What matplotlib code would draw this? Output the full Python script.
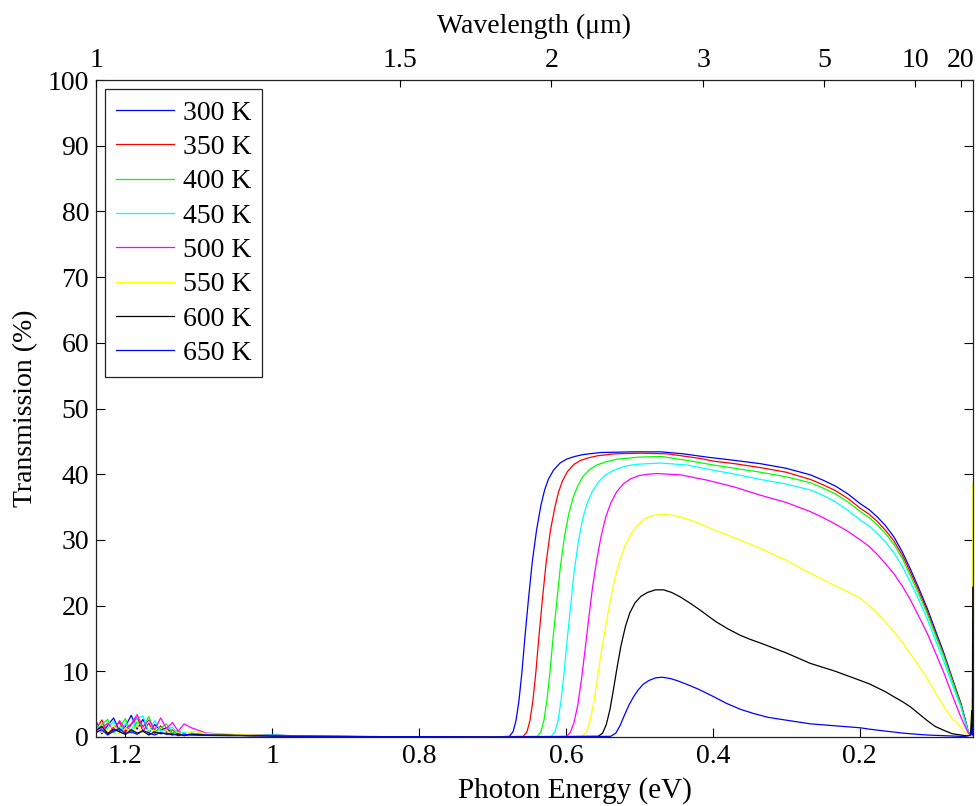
import numpy as np
import matplotlib
matplotlib.use("Agg")
import matplotlib.pyplot as plt

plt.rcParams['font.family'] = ['Liberation Serif', 'DejaVu Serif']

# ---------------------------------------------------------------
# Data: transmission (%) versus photon energy (eV) for each temperature
# ---------------------------------------------------------------
LABELS = ['300 K', '350 K', '400 K', '450 K', '500 K', '550 K', '600 K', '650 K']
COLORS = ['#0000ff', '#ff0000', '#00ff00', '#00ffff', '#ff00ff', '#ffff00', '#000000', '#0000ff']

# high-energy detector noise region (shared energy grid)
NOISE_E = [1.240, 1.232, 1.224, 1.216, 1.208, 1.200, 1.192, 1.184, 1.176, 1.168,
           1.160, 1.152, 1.144, 1.136, 1.128, 1.120, 1.110, 1.090, 1.060, 1.030,
           1.000, 0.960, 0.920, 0.880, 0.840]
NOISE_300 = [2.4, 0.5, 1.8, 2.9, 0.9, 1.6, 3.3, 1.2, 2.7, 0.6, 1.9, 1.0, 1.4, 0.4, 0.8,
             0.3, 0.5, 0.4, 0.3, 0.25, 0.3, 0.15, 0.1, 0.08, 0.05]
NOISE_350 = [1.2, 2.6, 0.4, 1.5, 2.2, 0.7, 1.9, 3.0, 0.9, 2.1, 0.5, 1.7, 0.8, 1.1, 0.3,
             0.6, 0.4, 0.3, 0.35, 0.2, 0.25, 0.15, 0.1, 0.06, 0.05]
NOISE_400 = [0.8, 1.9, 2.7, 0.6, 1.4, 2.8, 0.5, 2.3, 1.6, 3.1, 0.8, 1.3, 2.0, 0.6, 1.0,
             0.4, 0.6, 0.35, 0.3, 0.3, 0.2, 0.15, 0.1, 0.07, 0.05]
NOISE_450 = [2.0, 0.9, 1.3, 2.4, 0.5, 2.1, 1.0, 2.9, 3.2, 0.7, 2.5, 0.9, 1.2, 1.5, 0.5,
             0.7, 0.3, 0.45, 0.3, 0.2, 0.3, 0.1, 0.12, 0.06, 0.05]
NOISE_500 = [0.6, 1.4, 2.1, 1.0, 2.5, 1.2, 2.0, 3.4, 1.5, 2.6, 1.1, 2.9, 1.3, 2.2, 0.9,
             2.0, 1.4, 0.6, 0.4, 0.3, 0.2, 0.15, 0.1, 0.06, 0.05]
NOISE_550 = [1.5, 0.7, 1.1, 1.8, 0.4, 1.3, 0.8, 1.7, 0.6, 1.2, 0.9, 0.5, 1.0, 0.4, 0.7,
             0.3, 0.9, 0.5, 0.4, 0.3, 0.2, 0.1, 0.1, 0.05, 0.05]
NOISE_600 = [1.0, 1.6, 0.5, 1.2, 0.8, 0.4, 1.1, 0.6, 0.9, 0.3, 0.8, 0.5, 0.6, 0.3, 0.5,
             0.2, 0.4, 0.3, 0.3, 0.2, 0.15, 0.1, 0.08, 0.05, 0.05]
NOISE_650 = [0.7, 1.1, 0.3, 0.9, 1.3, 0.5, 0.8, 0.4, 1.0, 0.6, 0.3, 0.7, 0.4, 0.5, 0.2,
             0.4, 0.3, 0.25, 0.2, 0.2, 0.15, 0.1, 0.08, 0.05, 0.05]

# shared energy grid for the free-carrier roll-off toward long wavelengths
TAIL_E = [0.199, 0.187, 0.176, 0.165, 0.153, 0.142, 0.131, 0.120, 0.108, 0.097,
          0.085, 0.074, 0.062, 0.056, 0.052, 0.049, 0.0472, 0.0465, 0.0459]

# absorption edge and transmission window (down to 0.2 eV), then the roll-off
E_300 = [0.80, 0.70, 0.677, 0.672, 0.668, 0.664, 0.660, 0.656, 0.651, 0.646, 0.640, 0.634,
         0.629, 0.624, 0.617, 0.608, 0.599, 0.588, 0.576, 0.553, 0.510, 0.470, 0.440, 0.408,
         0.370, 0.335, 0.300, 0.267, 0.250, 0.233, 0.216]
T_300 = [0.05, 0.0, 0.1, 0.8, 2.5, 5.5, 9.8, 15.0, 21.0, 26.5, 31.5, 35.3,
         37.6, 39.2, 40.6, 41.7, 42.3, 42.7, 43.0, 43.3, 43.4, 43.4, 43.1, 42.6,
         42.1, 41.6, 40.9, 39.9, 39.1, 38.2, 37.0]
TAIL_300 = [35.5, 34.6, 33.5, 32.2, 30.4, 28.2, 25.6, 22.8, 19.6, 16.3,
            12.7, 9.0, 5.1, 2.6, 0.8, 0.3, 1.2, 0.4, 2.0]

E_350 = [0.80, 0.70, 0.658, 0.653, 0.649, 0.645, 0.641, 0.637, 0.632, 0.627, 0.621, 0.615,
         0.610, 0.605, 0.598, 0.589, 0.580, 0.569, 0.557, 0.534, 0.499, 0.462, 0.417, 0.400,
         0.370, 0.335, 0.300, 0.267, 0.250, 0.233, 0.216]
T_350 = [0.05, 0.0, 0.1, 0.8, 2.5, 5.5, 9.8, 15.0, 21.0, 26.5, 31.5, 35.0,
         37.3, 38.9, 40.4, 41.5, 42.1, 42.5, 42.8, 43.1, 43.2, 43.1, 42.4, 42.0,
         41.6, 41.0, 40.3, 39.2, 38.4, 37.5, 36.3]
TAIL_350 = [34.8, 33.9, 32.8, 31.5, 29.8, 27.7, 25.1, 22.4, 19.2, 15.9,
            12.4, 8.8, 5.0, 2.4, 0.7, 0.3, 0.9, 0.3, 1.5]

E_400 = [0.80, 0.70, 0.639, 0.634, 0.630, 0.626, 0.622, 0.618, 0.613, 0.608, 0.602, 0.596,
         0.590, 0.584, 0.577, 0.568, 0.558, 0.545, 0.530, 0.500, 0.470, 0.435, 0.399, 0.370,
         0.335, 0.300, 0.267, 0.250, 0.233, 0.216]
T_400 = [0.05, 0.0, 0.1, 0.8, 2.5, 5.5, 9.6, 14.5, 20.0, 25.5, 30.5, 34.0,
         36.5, 38.2, 39.6, 40.7, 41.4, 41.9, 42.3, 42.6, 42.7, 42.1, 41.4, 40.9,
         40.3, 39.6, 38.7, 37.9, 37.0, 35.8]
TAIL_400 = [34.3, 33.4, 32.3, 31.0, 29.3, 27.2, 24.6, 21.9, 18.8, 15.6,
            12.2, 8.6, 4.8, 2.3, 0.7, 0.3, 0.8, 0.3, 1.2]

E_450 = [0.80, 0.70, 0.620, 0.615, 0.611, 0.607, 0.603, 0.599, 0.594, 0.589, 0.583, 0.577,
         0.571, 0.564, 0.556, 0.546, 0.535, 0.520, 0.505, 0.471, 0.435, 0.399, 0.370, 0.335,
         0.300, 0.267, 0.250, 0.233, 0.216]
T_450 = [0.05, 0.0, 0.1, 0.8, 2.4, 5.2, 9.2, 14.0, 19.5, 25.0, 29.8, 33.3,
         35.6, 37.4, 38.8, 39.9, 40.6, 41.2, 41.5, 41.7, 41.4, 40.6, 40.0, 39.2,
         38.5, 37.6, 36.8, 35.8, 34.5]
TAIL_450 = [33.0, 32.1, 31.0, 29.7, 28.0, 26.0, 23.6, 21.0, 18.0, 14.8,
            11.4, 8.0, 4.5, 2.2, 0.7, 0.3, 0.9, 0.3, 1.0]

E_500 = [0.80, 0.70, 0.599, 0.594, 0.589, 0.584, 0.579, 0.574, 0.569, 0.564, 0.558, 0.552,
         0.546, 0.539, 0.531, 0.522, 0.512, 0.500, 0.488, 0.476, 0.460, 0.444, 0.408, 0.372,
         0.335, 0.300, 0.267, 0.250, 0.233, 0.216]
T_500 = [0.05, 0.0, 0.1, 0.7, 2.2, 4.8, 8.6, 13.2, 18.0, 22.6, 27.0, 30.6,
         33.4, 35.6, 37.3, 38.5, 39.3, 39.8, 40.0, 40.1, 40.0, 39.9, 39.1, 38.1,
         36.8, 35.7, 34.3, 33.4, 32.4, 31.3]
TAIL_500 = [30.0, 29.0, 27.8, 26.4, 24.8, 23.0, 20.9, 18.5, 15.8, 12.9,
            9.7, 6.4, 3.0, 1.5, 0.6, 0.3, 1.4, 0.4, 2.2]

E_550 = [0.80, 0.70, 0.578, 0.572, 0.567, 0.562, 0.557, 0.552, 0.546, 0.540, 0.534, 0.527,
         0.520, 0.512, 0.503, 0.493, 0.482, 0.471, 0.458, 0.444, 0.420, 0.400, 0.370, 0.335,
         0.300, 0.267, 0.233, 0.216]
T_550 = [0.05, 0.0, 0.1, 0.8, 2.5, 5.3, 9.0, 12.8, 16.8, 20.6, 23.8, 26.8,
         29.0, 30.8, 32.2, 33.2, 33.7, 33.9, 33.8, 33.5, 32.6, 31.6, 30.3, 28.7,
         26.9, 24.9, 23.0, 22.1]
TAIL_550 = [21.1, 20.0, 18.8, 17.5, 16.0, 14.4, 12.7, 10.9, 8.9, 6.8,
            4.6, 2.8, 1.5, 0.6, 0.3, 0.2, 6.0, 0.5, 38.6]

E_600 = [0.80, 0.70, 0.556, 0.550, 0.545, 0.540, 0.535, 0.530, 0.525, 0.519, 0.513, 0.506,
         0.498, 0.489, 0.478, 0.467, 0.456, 0.444, 0.430, 0.417, 0.405, 0.395, 0.380, 0.363,
         0.350, 0.335, 0.300, 0.267, 0.233, 0.216]
T_600 = [0.05, 0.0, 0.1, 0.6, 1.9, 4.2, 7.4, 10.8, 13.9, 16.8, 18.9, 20.4,
         21.4, 22.0, 22.4, 22.4, 22.0, 21.3, 20.3, 19.3, 18.3, 17.5, 16.5, 15.5,
         14.9, 14.3, 12.8, 11.2, 10.0, 9.3]
TAIL_600 = [8.6, 8.1, 7.5, 6.9, 6.1, 5.4, 4.6, 3.6, 2.5, 1.6,
            1.0, 0.5, 0.3, 0.2, 0.2, 0.3, 4.0, 0.6, 22.8]

E_650 = [0.80, 0.70, 0.539, 0.532, 0.526, 0.520, 0.514, 0.508, 0.502, 0.495, 0.487, 0.478,
         0.469, 0.458, 0.449, 0.435, 0.420, 0.400, 0.381, 0.362, 0.345, 0.325, 0.308, 0.267,
         0.233, 0.216]
T_650 = [0.05, 0.0, 0.1, 0.6, 1.8, 3.4, 4.9, 6.1, 7.1, 8.0, 8.6, 9.0,
         9.1, 8.9, 8.6, 8.0, 7.3, 6.2, 5.1, 4.2, 3.6, 3.0, 2.7, 2.0,
         1.7, 1.55]
TAIL_650 = [1.4, 1.2, 1.05, 0.9, 0.75, 0.6, 0.5, 0.4, 0.3, 0.25,
            0.2, 0.15, 0.1, 0.1, 0.2, 0.3, 1.0, 0.3, 1.5]

NOISE = [NOISE_300, NOISE_350, NOISE_400, NOISE_450, NOISE_500, NOISE_550, NOISE_600, NOISE_650]
ENERGY = [E_300, E_350, E_400, E_450, E_500, E_550, E_600, E_650]
TRANS = [T_300, T_350, T_400, T_450, T_500, T_550, T_600, T_650]
TAILS = [TAIL_300, TAIL_350, TAIL_400, TAIL_450, TAIL_500, TAIL_550, TAIL_600, TAIL_650]

# axis ticks
E_TICKS = [1.2, 1.0, 0.8, 0.6, 0.4, 0.2]
E_TICK_LABELS = ['1.2', '1', '0.8', '0.6', '0.4', '0.2']
WL_TICKS = [1, 1.5, 2, 3, 5, 10, 20]
WL_TICK_LABELS = ['1', '1.5', '2', '3', '5', '10', '20']
Y_TICKS = list(range(0, 101, 10))

HC = 1.2398  # eV * um
E_MAX, E_MIN = 1.240, 0.0456

# ---------------------------------------------------------------
fig = plt.figure(figsize=(9.79, 8.06), dpi=100)
W, H = 979, 806
ax = fig.add_axes([96 / W, 1 - 737 / H, 877 / W, 657 / H])

for noise, e, t, tail, c, lab in zip(NOISE, ENERGY, TRANS, TAILS, COLORS, LABELS):
    x = np.concatenate([NOISE_E, e, TAIL_E])
    y = np.concatenate([noise, t, tail])
    ax.plot(x, y, color=c, lw=0.9, label=lab)

ax.set_xlim(E_MAX, E_MIN)
ax.set_ylim(0, 100)
ax.set_xticks(E_TICKS)
ax.set_xticklabels(E_TICK_LABELS)
ax.set_yticks(Y_TICKS)

FS = 20
ax.tick_params(axis='both', direction='in', labelsize=FS, length=6.5, width=0.8,
               top=False, right=True, colors='black')
ax.tick_params(axis='x', pad=5)
ax.tick_params(axis='y', pad=5)
for s in ax.spines.values():
    s.set_linewidth(0.9)
    s.set_color('#222222')

ax.set_xlabel('Photon Energy (eV)', fontsize=21)
ax.xaxis.set_label_coords(0.546, -0.061)
ax.set_ylabel('Transmission (%)', fontsize=FS)
ax.yaxis.set_label_coords(-0.066, 0.5)

# wavelength scale along the top edge
ax2 = ax.twiny()
ax2.set_xlim(ax.get_xlim())
ax2.set_xticks([HC / w for w in WL_TICKS])
ax2.set_xticklabels(WL_TICK_LABELS)
ax2.tick_params(axis='x', direction='in', labelsize=FS, length=5, width=0.8, pad=5)
ax2.set_xlabel('Wavelength (μm)', fontsize=FS)
ax2.xaxis.set_label_coords(0.5, 1.071)
for s in ax2.spines.values():
    s.set_visible(False)

leg = ax.legend(loc='upper left', bbox_to_anchor=(0.0103, 0.986), borderaxespad=0,
                fontsize=FS, handlelength=2.1, handletextpad=0.3, labelspacing=0.32,
                borderpad=0.4, fancybox=False, framealpha=1, edgecolor='#222222')
leg.get_frame().set_linewidth(0.9)

fig.savefig('out.png', dpi=100)
